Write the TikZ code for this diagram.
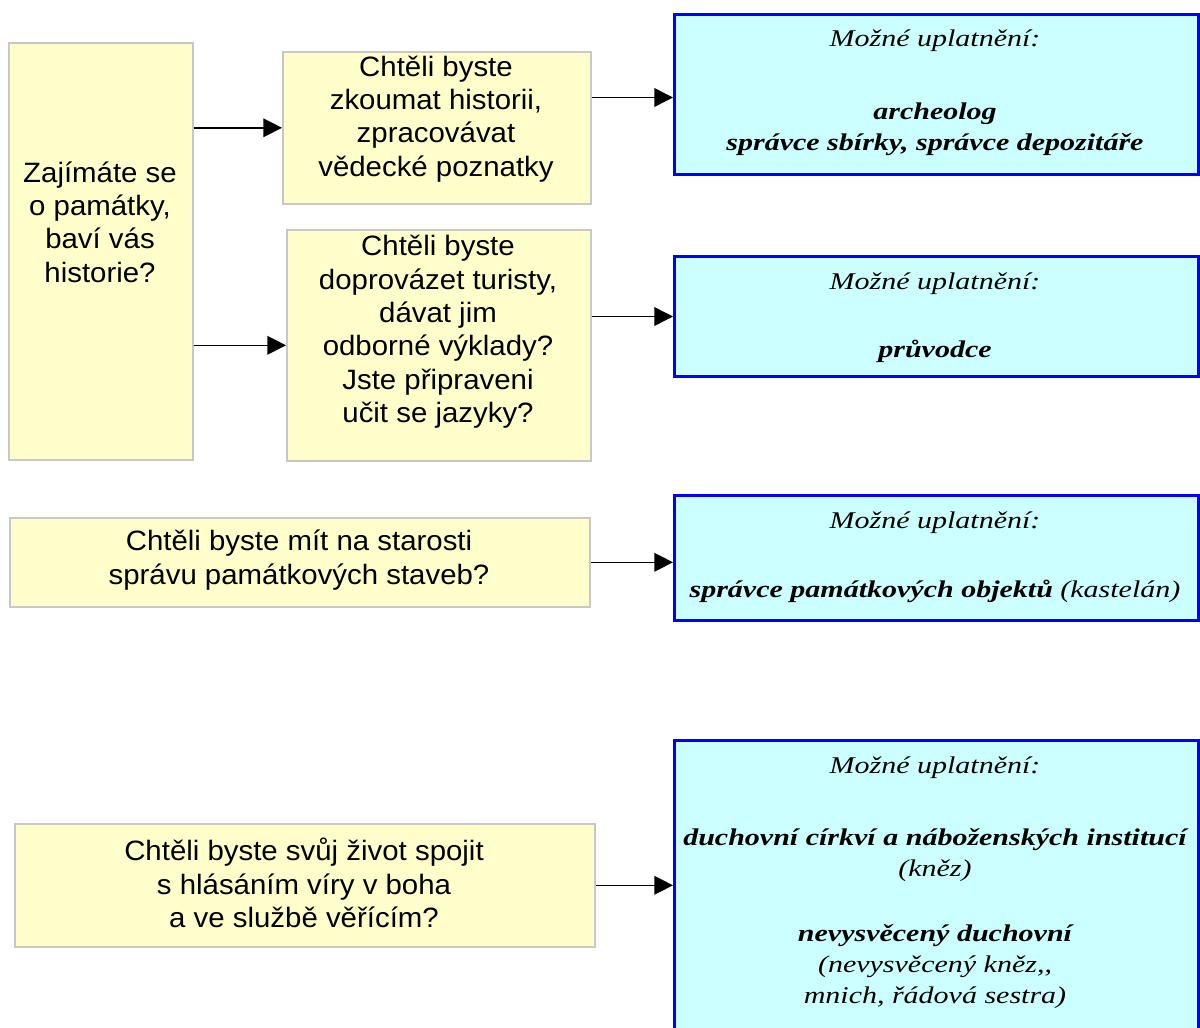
\documentclass[tikz,border=0pt]{standalone}
\usepackage{fontspec}
\setmainfont{Liberation Serif}
\setsansfont{Liberation Sans}
\newfontfamily\cfont[FakeStretch=1.25]{Liberation Serif}
\newfontfamily\yfont[FakeStretch=1.05]{Liberation Sans}
\usetikzlibrary{arrows.meta}
\definecolor{yfill}{HTML}{FFFFCC}
\definecolor{ygray}{HTML}{C8C8C8}
\definecolor{cfill}{HTML}{CCFFFF}
\definecolor{cblue}{HTML}{0000FF}
\begin{document}
\begin{tikzpicture}[x=0.75pt,y=-0.75pt,
  ybox/.style={draw=ygray, fill=yfill, line width=1.2pt, inner sep=0pt, anchor=north west},
  cbox/.style={draw=cblue, fill=cfill, line width=2.25pt, inner sep=0pt, anchor=north west},
  ytext/.style={font=\yfont\fontsize{21}{25}\selectfont, align=center, inner sep=0pt},
  ctext/.style={font=\cfont\itshape\fontsize{18}{23.25}\selectfont, align=center, inner sep=0pt},
  arr/.style={-{Triangle[length=14pt,width=14pt]}, line width=1.1pt}
]
\useasboundingbox (0,0) rectangle (1200,1028);
\clip (0,0) rectangle (1200,1028);

% yellow question boxes
\node[ybox, minimum width=138pt, minimum height=312.75pt] (A) at (8,42) {};
\node[ybox, minimum width=231pt, minimum height=114pt] (B) at (282,51) {};
\node[ybox, minimum width=228pt, minimum height=173.25pt] (B2) at (286,229) {};
\node[ybox, minimum width=435pt, minimum height=66.75pt] (E) at (9,517) {};
\node[ybox, minimum width=435pt, minimum height=92.25pt] (G) at (14,823) {};

\node[ytext] (At) at (100,222) {Zajímáte se\\o památky,\\baví vás\\historie?};
\node[ytext] (Bt) at (436,119) {Chtěli byste\\zkoumat historii,\\zpracovávat\\vědecké poznatky};
\node[ytext] (B2t) at (438,332) {Chtěli byste\\doprovázet turisty,\\dávat jim\\odborné výklady?\\Jste připraveni\\učit se jazyky?};
\node[ytext] (Et) at (299,560) {Chtěli byste mít na starosti\\správu památkových staveb?};
\node[ytext] (Gt) at (304,883) {Chtěli byste svůj život spojit\\s hlásáním víry v boha\\a ve službě věřícím?};

% cyan answer boxes
\node[cbox, minimum width=393pt, minimum height=120pt] (C) at (673,13) {};
\node[cbox, minimum width=393pt, minimum height=90pt] (D) at (673,255) {};
\node[cbox, minimum width=393pt, minimum height=93.75pt] (F) at (673,494) {};
\node[cbox, minimum width=393pt, minimum height=232.5pt] (H) at (673,739) {};

\node[ctext] (Ch) at (935,41) {Možné uplatnění:};
\node[ctext] (Cb) at (935,129) {\textbf{archeolog}\\\textbf{správce sbírky, správce depozitáře}};
\node[ctext] (Dh) at (935,284) {Možné uplatnění:};
\node[ctext] (Db) at (935,351) {\textbf{průvodce}};
\node[ctext] (Fh) at (935,523) {Možné uplatnění:};
\node[ctext] (Fb) at (935,591) {\textbf{správce památkových objektů} (kastelán)};
\node[ctext] (Hh) at (935,768) {Možné uplatnění:};
\node[ctext] (Hb1) at (935,855) {\textbf{duchovní církví a náboženských institucí}\\(kněz)};
\node[ctext] (Hb2) at (935,967) {\textbf{nevysvěcený duchovní}\\(nevysvěcený kněz,,\\mnich, řádová sestra)};

% connectors
\draw[arr] (A.east |- B.west) -- (B.west);
\draw[arr] (A.east |- B2.west) -- (B2.west);
\draw[arr] ([yshift=-2.25pt]B.east |- C.west) -- ([yshift=-2.25pt]C.west);
\draw[arr] (B2.east |- D.west) -- (D.west);
\draw[arr] (E.east) -- (E.east -| F.west);
\draw[arr] (G.east) -- (G.east -| H.west);
\end{tikzpicture}
\end{document}
